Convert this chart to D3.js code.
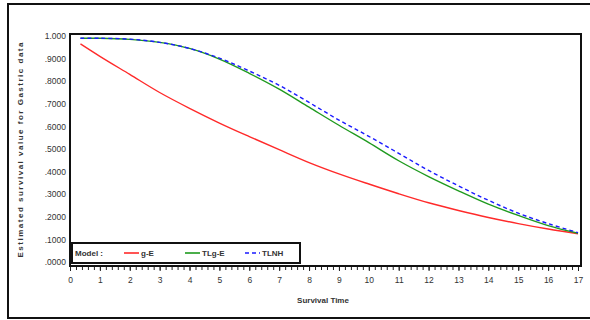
<!DOCTYPE html>
<html>
<head>
<meta charset="utf-8">
<script src="https://cdn.jsdelivr.net/npm/d3@7"></script>
<style>
  body { margin: 0; background: #fff; }
  svg { display: block; font-family: "Liberation Sans", Arial, sans-serif; }
</style>
</head>
<body>
<svg id="chart" width="590" height="320"></svg>
<script>
// survival time points
const times = [0.35, 1, 2, 3, 4, 5, 6, 7, 8, 9, 10, 11, 12, 13, 14, 15, 16, 17];
// estimated survival per model
const geValues   = [0.965, 0.91, 0.83, 0.75, 0.68, 0.615, 0.555, 0.497, 0.44, 0.39, 0.345, 0.302, 0.262, 0.228, 0.197, 0.17, 0.146, 0.125];
const tlgeValues = [0.99, 0.99, 0.985, 0.972, 0.945, 0.898, 0.835, 0.765, 0.685, 0.605, 0.528, 0.448, 0.378, 0.315, 0.256, 0.206, 0.161, 0.127];
const tlnhValues = [0.99, 0.99, 0.986, 0.972, 0.945, 0.902, 0.845, 0.782, 0.706, 0.628, 0.556, 0.481, 0.405, 0.337, 0.273, 0.216, 0.17, 0.13];
const modelNames = ["g-E", "TLg-E", "TLNH"];
const xTicks = d3.range(0, 18);
const yTicks = d3.range(0, 1.01, 0.1);

const svg = d3.select("#chart");

// outer frame
svg.append("rect")
  .attr("x", 8).attr("y", 4)
  .attr("width", 600).attr("height", 314)
  .attr("fill", "none")
  .attr("stroke", "#111")
  .attr("stroke-width", 2);

const plot = { left: 70, right: 581, top: 34, bottom: 266 };

const x = d3.scaleLinear().domain([0, 17]).range([70, 578]);
const y = d3.scaleLinear().domain([0, 1]).range([262, 36]);

// minor ticks
svg.append("g")
  .attr("transform", `translate(0,${plot.bottom + 1})`)
  .call(d3.axisBottom(x).tickValues(d3.range(0, 17.01, 0.2)).tickSize(3).tickFormat(""))
  .call(g => g.select(".domain").remove())
  .call(g => g.selectAll("line").attr("stroke", "#222"));

// major ticks + labels
svg.append("g")
  .attr("transform", `translate(0,${plot.bottom + 1})`)
  .call(d3.axisBottom(x).tickValues(xTicks).tickSize(4).tickPadding(6))
  .call(g => g.select(".domain").remove())
  .call(g => g.selectAll("line").attr("stroke", "#222"))
  .call(g => g.selectAll("text").attr("font-size", 8.5).attr("fill", "#333"));

// y labels
const yFmt = d => d >= 1 ? "1.000" : d3.format(".4f")(d).replace(/^0/, "");
svg.append("g")
  .attr("transform", `translate(${plot.left - 2},0)`)
  .call(d3.axisLeft(y).tickValues(yTicks).tickSize(0).tickPadding(2).tickFormat(yFmt))
  .call(g => g.select(".domain").remove())
  .call(g => g.selectAll("text").attr("font-size", 8.5).attr("fill", "#333"));

// axis titles
svg.append("text")
  .attr("x", 323).attr("y", 303)
  .attr("text-anchor", "middle")
  .attr("font-size", 8)
  .attr("font-weight", "bold")
  .attr("fill", "#333")
  .text("Survival Time");

svg.append("text")
  .attr("transform", "translate(23,150) rotate(-90)")
  .attr("text-anchor", "middle")
  .attr("font-size", 8)
  .attr("font-weight", "bold")
  .attr("fill", "#333")
  .attr("textLength", 215)
  .attr("lengthAdjust", "spacing")
  .text("Estimated survival value for Gastric data");

// curves
const series = [
  { name: modelNames[0], values: geValues, color: "#ff2a2a", dash: null },
  { name: modelNames[1], values: tlgeValues, color: "#1f9a1f", dash: null },
  { name: modelNames[2], values: tlnhValues, color: "#1a1aff", dash: "4,3" }
];

const line = d3.line()
  .x((d, i) => x(times[i]))
  .y(d => y(d))
  .curve(d3.curveCatmullRom);

svg.append("g")
  .selectAll("path")
  .data(series)
  .join("path")
  .attr("d", d => line(d.values))
  .attr("fill", "none")
  .attr("stroke", d => d.color)
  .attr("stroke-width", 1.4)
  .attr("stroke-dasharray", d => d.dash);

// plot border
svg.append("rect")
  .attr("x", plot.left).attr("y", plot.top)
  .attr("width", plot.right - plot.left)
  .attr("height", plot.bottom - plot.top)
  .attr("fill", "none")
  .attr("stroke", "#111")
  .attr("stroke-width", 2);

// legend
const lg = svg.append("g");
lg.append("rect")
  .attr("x", 72).attr("y", 243)
  .attr("width", 228).attr("height", 20)
  .attr("fill", "#fff")
  .attr("stroke", "#111")
  .attr("stroke-width", 2);
lg.append("text")
  .attr("x", 75).attr("y", 256)
  .attr("font-size", 8).attr("font-weight", "bold").attr("fill", "#333")
  .text("Model :");

const legX = [124, 185, 245];
const items = lg.selectAll("g.item")
  .data(series)
  .join("g")
  .attr("class", "item")
  .attr("transform", (d, i) => `translate(${legX[i]},253)`);
items.append("line")
  .attr("x1", 0).attr("x2", 15)
  .attr("stroke", d => d.color)
  .attr("stroke-width", 1.6)
  .attr("stroke-dasharray", d => d.dash);
items.append("text")
  .attr("x", 17).attr("y", 3)
  .attr("font-size", 8).attr("font-weight", "bold").attr("fill", "#333")
  .text(d => d.name);
</script>
</body>
</html>
